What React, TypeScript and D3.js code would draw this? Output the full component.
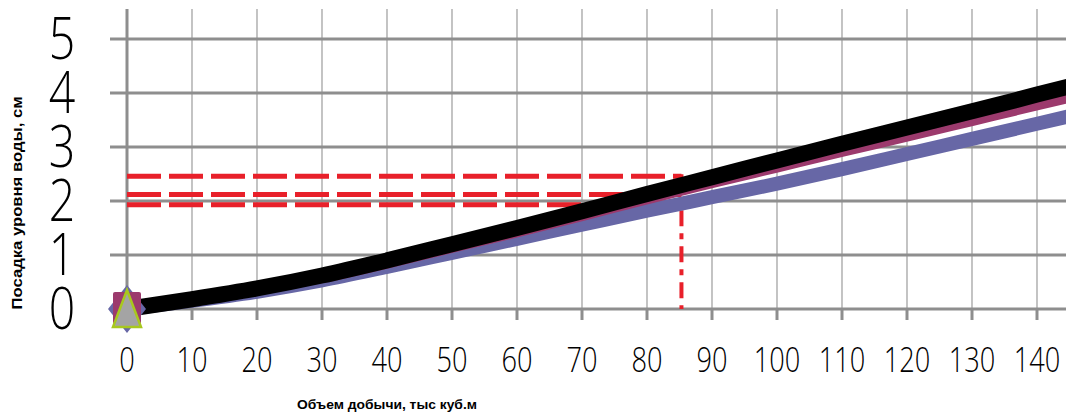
import React from "react";
import * as d3 from "d3";

const xValues = [0, 10, 20, 30, 40, 50, 60, 70, 80, 90, 100, 110, 120, 130, 140, 150];
const blueSeries = [0, 0.15, 0.32, 0.53, 0.78, 1.04, 1.3, 1.56, 1.82, 2.07, 2.32, 2.59, 2.87, 3.15, 3.43, 3.71];
const magentaSeries = [0, 0.16, 0.35, 0.57, 0.84, 1.13, 1.42, 1.72, 2.03, 2.33, 2.62, 2.91, 3.19, 3.48, 3.77, 4.05];
const blackSeries = [0, 0.18, 0.38, 0.62, 0.9, 1.2, 1.5, 1.81, 2.13, 2.44, 2.75, 3.06, 3.36, 3.66, 3.97, 4.28];

const xTicks = [0, 10, 20, 30, 40, 50, 60, 70, 80, 90, 100, 110, 120, 130, 140];
const yTicks = [0, 1, 2, 3, 4, 5];

const refLevels = [2.46, 2.12, 1.93];
const refX = 85.3;

const xTitle = "Объем добычи, тыс куб.м";
const yTitle = "Посадка уровня  воды, см";

const W = 1066;
const H = 413;

export default function App() {
  const x = d3.scaleLinear().domain([0, 140]).range([127, 1037]);
  const y = d3.scaleLinear().domain([0, 5]).range([309, 39]);
  const plotTop = 9;
  const plotRight = W;

  const line = (vals: number[]) =>
    d3
      .line<number>()
      .x((_, i) => x(xValues[i]))
      .y((d) => y(d))
      .curve(d3.curveMonotoneX)(vals) as string;

  const labelFont = "'Open Sans', Lato, sans-serif";
  const red = "#e8202a";
  const markerX = x(0);
  const markerY = y(0);

  return (
    <svg
      width={W}
      height={H}
      style={{ position: "absolute", left: 0, top: 0, background: "#fff" }}
    >
      <defs>
        <clipPath id="plotclip">
          <rect x={0} y={0} width={plotRight} height={H} />
        </clipPath>
      </defs>
      {xTicks.map((t) =>
        t === 0 ? null : (
          <line
            key={"vg" + t}
            x1={x(t)}
            x2={x(t)}
            y1={plotTop}
            y2={y(0)}
            stroke="#b5b5b5"
            strokeWidth={1.6}
          />
        )
      )}
      {yTicks.map((t) => (
        <line
          key={"hg" + t}
          x1={110}
          x2={plotRight}
          y1={y(t)}
          y2={y(t)}
          stroke="#8e8e8e"
          strokeWidth={3}
        />
      ))}
      {xTicks.map((t) => (
        <line
          key={"xt" + t}
          x1={x(t)}
          x2={x(t)}
          y1={y(0)}
          y2={y(0) + 11}
          stroke="#8e8e8e"
          strokeWidth={3}
        />
      ))}
      <line x1={x(0)} x2={x(0)} y1={plotTop} y2={y(0) + 11} stroke="#8e8e8e" strokeWidth={3} />

      {refLevels.map((v, i) => (
        <line
          key={"ref" + i}
          x1={x(0)}
          x2={x(refX)}
          y1={y(v)}
          y2={y(v)}
          stroke={red}
          strokeWidth={5}
          strokeDasharray="34 8"
        />
      ))}
      <line
        x1={x(refX)}
        x2={x(refX)}
        y1={y(refLevels[0]) - 2}
        y2={y(0)}
        stroke={red}
        strokeWidth={4}
        strokeDasharray="16 7 6 7"
      />

      <g clipPath="url(#plotclip)">
        <path d={line(blueSeries)} fill="none" stroke="#6767a6" strokeWidth={14} />
        <path d={line(magentaSeries)} fill="none" stroke="#9c3a6d" strokeWidth={10} />
        <path d={line(blackSeries)} fill="none" stroke="#000" strokeWidth={16} />
      </g>

      <path
        d={`M${markerX},${markerY - 24} L${markerX + 19},${markerY} L${markerX},${markerY + 24} L${markerX - 19},${markerY} Z`}
        fill="#6767a6"
      />
      <rect x={markerX - 14} y={markerY - 17} width={28} height={32} rx={2} fill="#9c3a6d" />
      <path
        d={`M${markerX},${markerY - 19} L${markerX + 14},${markerY + 18} L${markerX - 14},${markerY + 18} Z`}
        fill="#a4a4a4"
        stroke="#a8c81e"
        strokeWidth={2.5}
        strokeLinejoin="miter"
      />

      {yTicks.map((t) => (
        <g key={"yl" + t} transform={`translate(62, ${y(t) - 3}) scale(0.8, 1)`}>
          <text
            x={0}
            y={0}
            textAnchor="middle"
            dominantBaseline="central"
            fontFamily={labelFont}
            fontWeight={350}
            fontSize={58}
            fill="#000"
          >
            {t}
          </text>
        </g>
      ))}
      {xTicks.map((t) => (
        <g key={"xl" + t} transform={`translate(${x(t)}, 359) scale(0.8, 1)`}>
          <text
            x={0}
            y={0}
            textAnchor="middle"
            dominantBaseline="central"
            fontFamily={labelFont}
            fontWeight={350}
            fontSize={34}
            fill="#000"
          >
            {t}
          </text>
        </g>
      ))}

      <text
        x={387}
        y={409}
        textAnchor="middle"
        fontFamily="'Liberation Sans', Arial, sans-serif"
        fontWeight="bold"
        fontSize={13}
        textLength={180}
        lengthAdjust="spacingAndGlyphs"
        fill="#000"
      >
        {xTitle}
      </text>
      <text
        transform="translate(22, 203) rotate(-90)"
        x={0}
        y={0}
        textAnchor="middle"
        fontFamily="'Liberation Sans', Arial, sans-serif"
        fontWeight="bold"
        fontSize={14}
        textLength={213}
        lengthAdjust="spacingAndGlyphs"
        fill="#000"
      >
        {yTitle}
      </text>
    </svg>
  );
}
